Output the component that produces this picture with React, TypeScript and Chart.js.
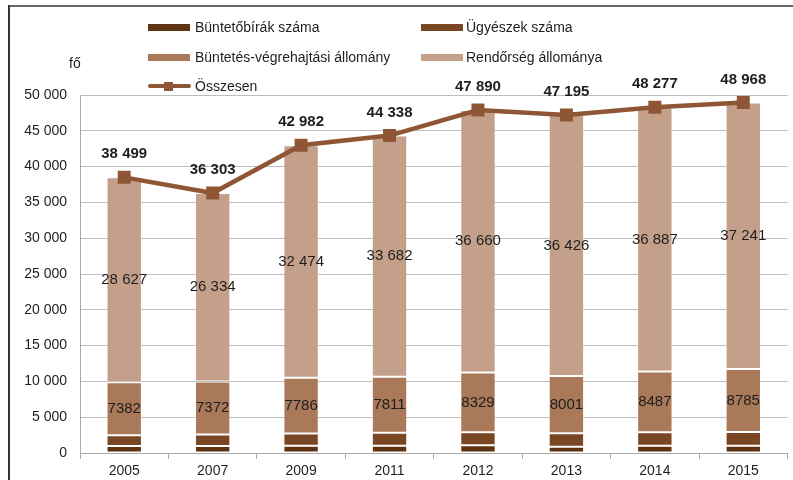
import React, { useEffect, useRef } from "react";
import { Chart, registerables } from "chart.js";

Chart.register(...registerables);

const years = ["2005", "2007", "2009", "2011", "2012", "2013", "2014", "2015"];
const judges = [980, 990, 1000, 1010, 1080, 890, 1020, 1030];
const prosecutors = [1510, 1607, 1722, 1835, 1821, 1878, 1883, 1912];
const prison = [7382, 7372, 7786, 7811, 8329, 8001, 8487, 8785];
const police = [28627, 26334, 32474, 33682, 36660, 36426, 36887, 37241];
const totals = [38499, 36303, 42982, 44338, 47890, 47195, 48277, 48968];
const yTicks = [0, 5000, 10000, 15000, 20000, 25000, 30000, 35000, 40000, 45000, 50000];

const FONT = "'Liberation Sans', Arial, sans-serif";
const C_JUDGE = "#5f3211";
const C_PROS = "#7a4725";
const C_PRISON = "#a9795a";
const C_POLICE = "#c4a08a";
const C_LINE = "#8e5634";

const spaced = (n: number) => String(n).replace(/\B(?=(\d{3})+(?!\d))/g, " ");

const labelPlugin = {
  id: "valueLabels",
  afterDatasetsDraw(chart: any) {
    const ctx = chart.ctx;
    ctx.save();
    ctx.textAlign = "center";
    ctx.textBaseline = "middle";
    ctx.fillStyle = "#1e1e1e";
    const mPrison = chart.getDatasetMeta(2);
    mPrison.data.forEach((el: any, i: number) => {
      const p = el.getProps(["x", "y", "base"], true);
      ctx.font = `15px ${FONT}`;
      ctx.fillText(String(prison[i]), p.x, (p.y + p.base) / 2);
    });
    const mPolice = chart.getDatasetMeta(3);
    mPolice.data.forEach((el: any, i: number) => {
      const p = el.getProps(["x", "y", "base"], true);
      ctx.font = `15px ${FONT}`;
      ctx.fillText(spaced(police[i]), p.x, (p.y + p.base) / 2);
    });
    const mLine = chart.getDatasetMeta(4);
    mLine.data.forEach((el: any, i: number) => {
      const p = el.getProps(["x", "y"], true);
      ctx.font = `bold 15px ${FONT}`;
      ctx.fillText(spaced(totals[i]), p.x, p.y - 23);
    });
    ctx.restore();
  },
};

export default function App() {
  const ref = useRef<HTMLCanvasElement | null>(null);

  useEffect(() => {
    if (!ref.current) return;
    const barCommon = {
      type: "bar" as const,
      stack: "s",
      order: 1,
      barPercentage: 0.4,
      categoryPercentage: 1,
      borderWidth: 1,
      borderColor: "rgba(255,255,255,0.35)",
      borderSkipped: false,
    };
    const chart = new Chart(ref.current, {
      type: "bar",
      data: {
        labels: years,
        datasets: [
          { ...barCommon, label: "Büntetőbírák száma", data: judges, backgroundColor: C_JUDGE },
          { ...barCommon, label: "Ügyészek száma", data: prosecutors, backgroundColor: C_PROS },
          { ...barCommon, label: "Büntetés-végrehajtási állomány", data: prison, backgroundColor: C_PRISON },
          { ...barCommon, label: "Rendőrség állománya", data: police, backgroundColor: C_POLICE },
          {
            type: "line" as const,
            label: "Összesen",
            data: totals,
            stack: "t",
            order: 0,
            borderColor: C_LINE,
            backgroundColor: C_LINE,
            borderWidth: 4.5,
            pointStyle: "rect",
            pointRadius: 6,
            pointBackgroundColor: C_LINE,
            pointBorderColor: C_LINE,
            tension: 0,
          } as any,
        ],
      },
      options: {
        animation: false,
        responsive: false,
        maintainAspectRatio: false,
        layout: { padding: { left: 0, right: 5, top: 95, bottom: -1 } },
        plugins: { legend: { display: false }, tooltip: { enabled: false } },
        scales: {
          x: {
            stacked: true,
            afterFit: (s: any) => { s.height = 28; },
            grid: { drawOnChartArea: false, drawTicks: true, tickLength: 6, color: "#aaa", offset: true },
            border: { display: true, color: "#aaa", width: 1 },
            ticks: { font: { family: FONT, size: 14 }, color: "#1e1e1e", padding: 4 },
          },
          y: {
            stacked: true,
            min: 0,
            max: 50000,
            afterFit: (s: any) => { s.width = 80; },
            afterBuildTicks: (s: any) => { s.ticks = yTicks.map((v) => ({ value: v })); },
            grid: { color: "#bdbdbd", lineWidth: 1, drawTicks: false },
            border: { display: true, color: "#aaa" },
            ticks: {
              font: { family: FONT, size: 14 },
              color: "#1e1e1e",
              padding: 13,
              callback: (v: any) => spaced(Number(v)),
            },
          },
        },
      },
      plugins: [labelPlugin],
    });
    return () => chart.destroy();
  }, []);

  const legendText: React.CSSProperties = {
    position: "absolute",
    fontFamily: FONT,
    fontSize: 14,
    color: "#1e1e1e",
    lineHeight: "16px",
    whiteSpace: "nowrap",
  };
  const sw = (x: number, y: number, c: string) => (
    <div style={{ position: "absolute", left: x, top: y - 3.5, width: 42, height: 7, background: c }} />
  );

  return (
    <div style={{ position: "absolute", left: 0, top: 0, width: 793, height: 480, background: "#fff", overflow: "hidden" }}>
      <canvas ref={ref} width={798} height={480} style={{ position: "absolute", left: 0, top: 0, width: 798, height: 480 }} />
      <div style={{ position: "absolute", left: 8, top: 5, right: 0, height: 2, background: "#666" }} />
      <div style={{ position: "absolute", left: 8, top: 5, width: 1.5, bottom: 0, background: "#333" }} />
      <div style={{ ...legendText, left: 69, top: 55 }}>fő</div>
      {sw(148, 27, C_JUDGE)}
      <div style={{ ...legendText, left: 195, top: 19 }}>Büntetőbírák száma</div>
      {sw(421, 27, C_PROS)}
      <div style={{ ...legendText, left: 466, top: 19 }}>Ügyészek száma</div>
      {sw(148, 57, C_PRISON)}
      <div style={{ ...legendText, left: 195, top: 49 }}>Büntetés-végrehajtási állomány</div>
      {sw(421, 57, C_POLICE)}
      <div style={{ ...legendText, left: 466, top: 49 }}>Rendőrség állománya</div>
      <div style={{ position: "absolute", left: 148, top: 84, width: 43, height: 4, background: C_LINE, borderRadius: 2 }} />
      <div style={{ position: "absolute", left: 164, top: 81.5, width: 9, height: 9, background: C_LINE }} />
      <div style={{ ...legendText, left: 195, top: 78 }}>Összesen</div>
    </div>
  );
}
